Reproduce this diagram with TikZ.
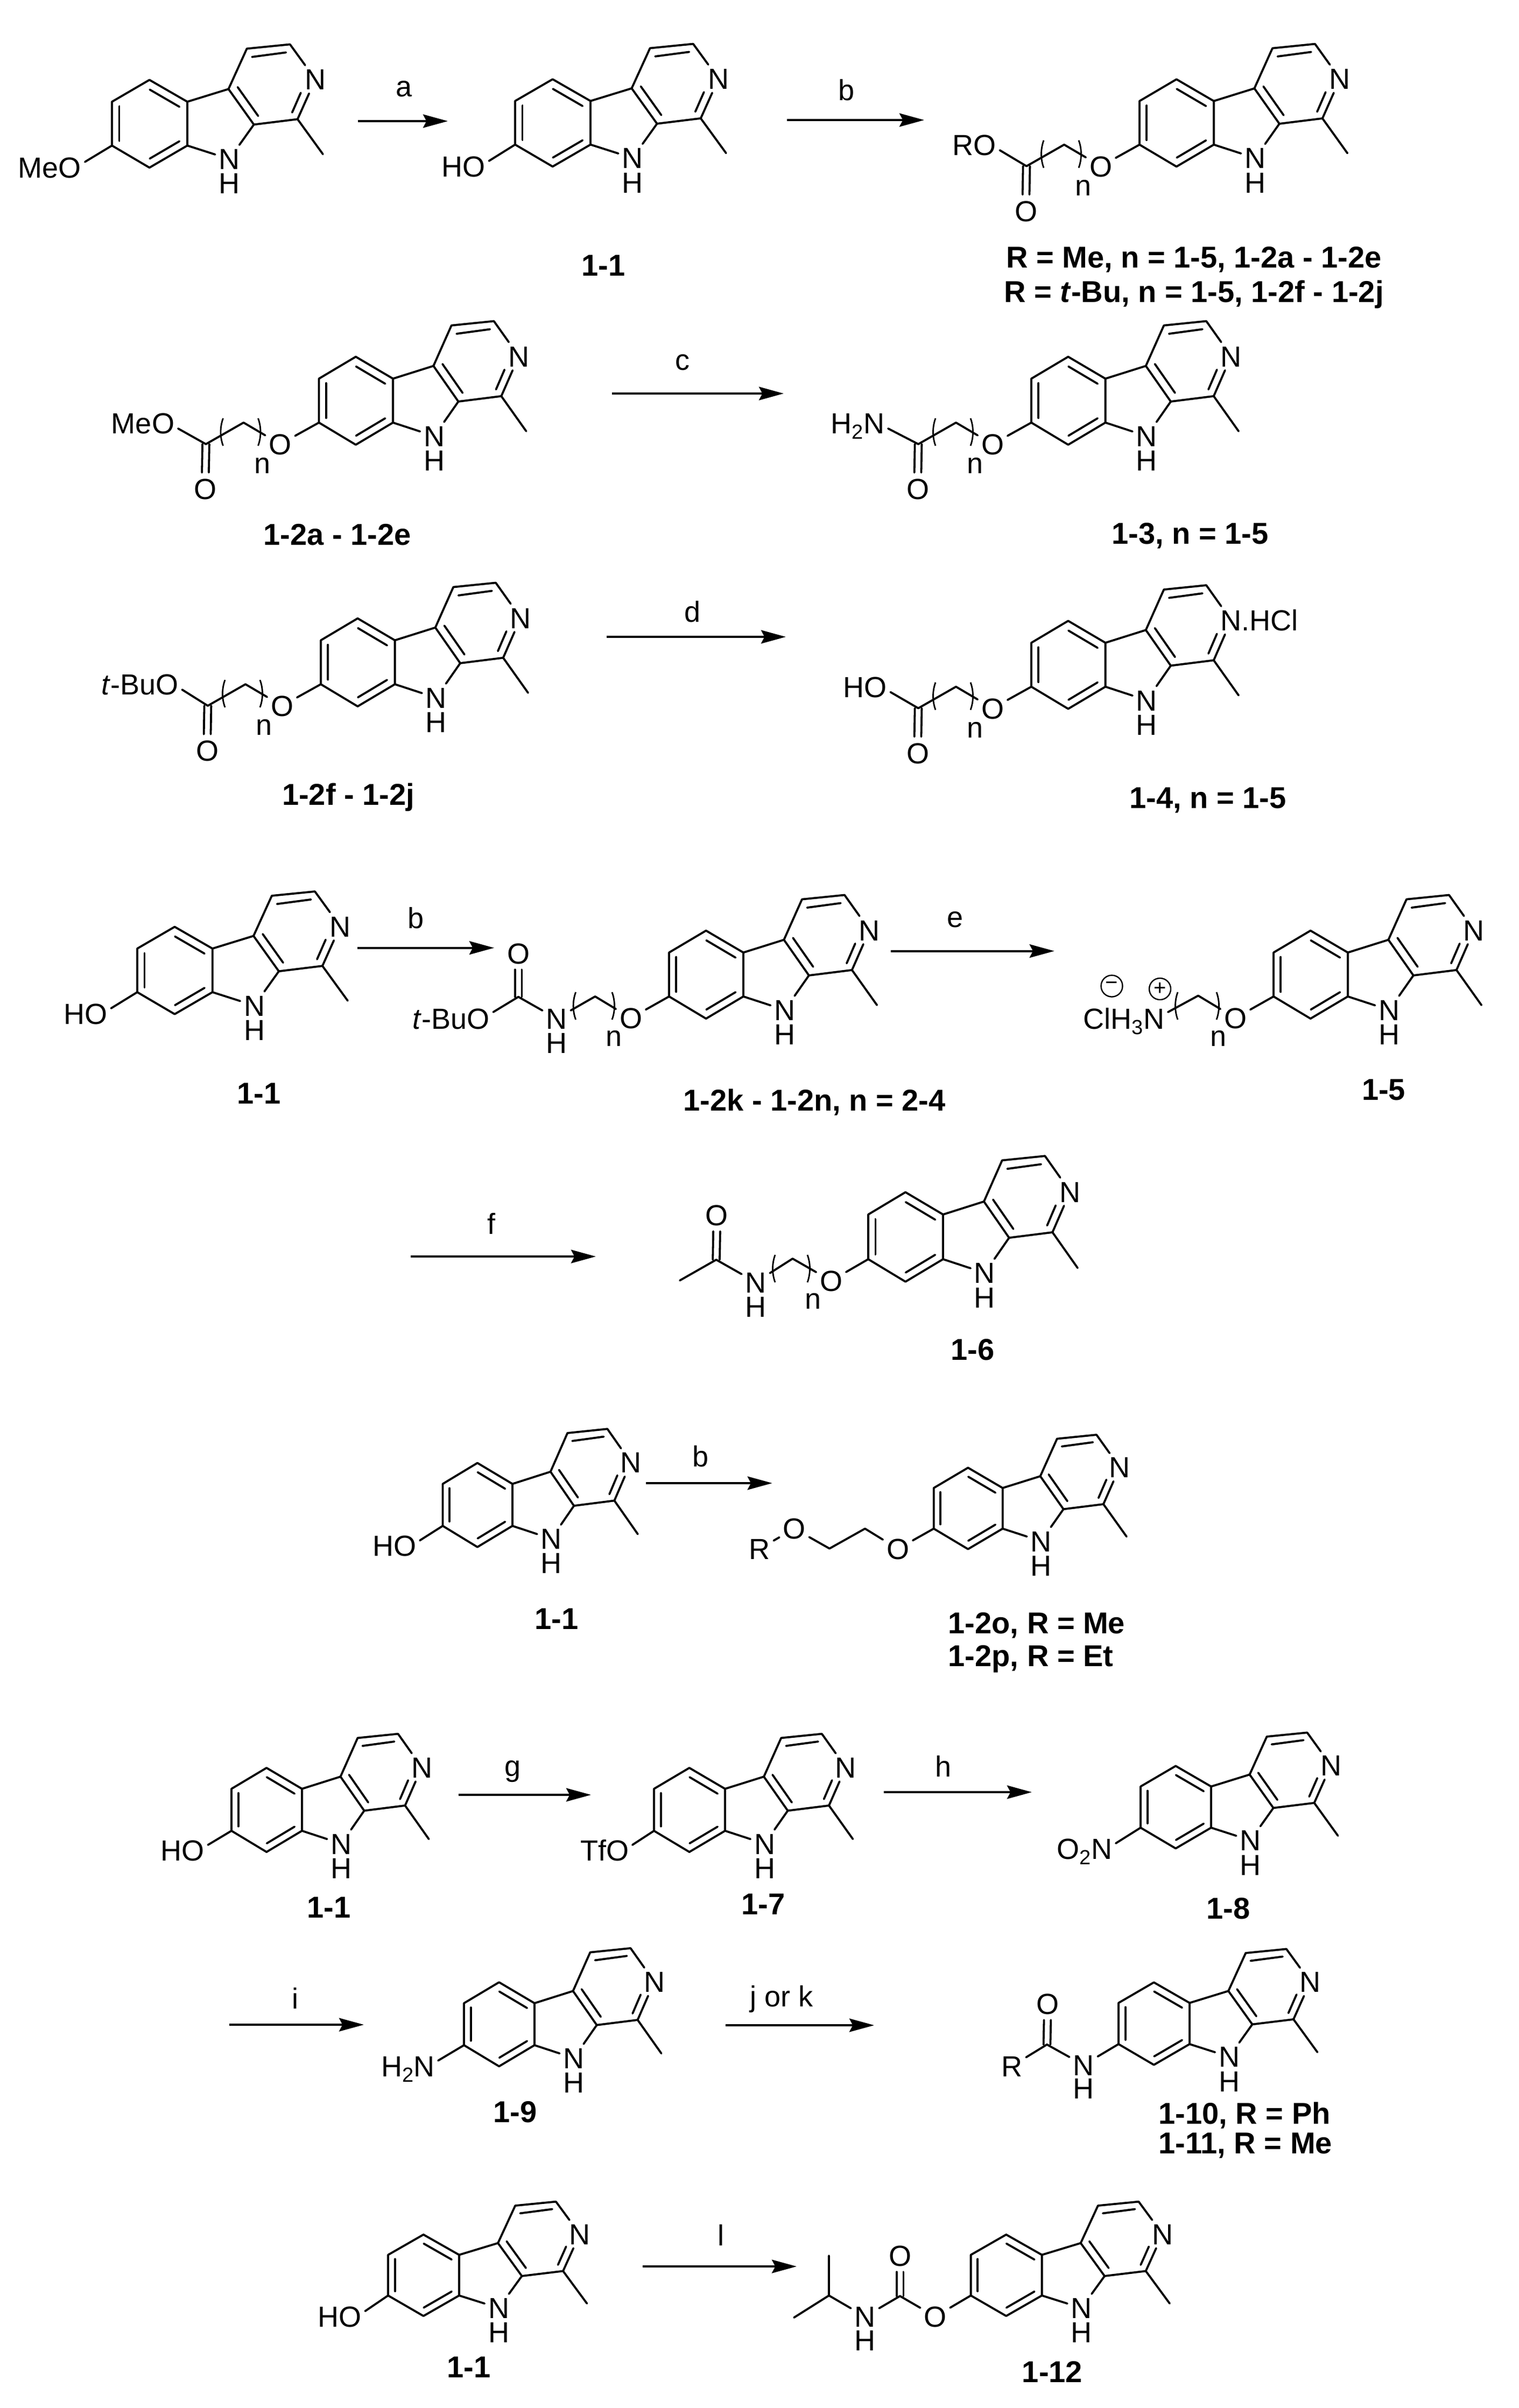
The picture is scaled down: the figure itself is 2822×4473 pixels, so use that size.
\documentclass[tikz,border=0pt]{standalone}
\usepackage{fontspec}
\setmainfont{Liberation Sans}
\usetikzlibrary{arrows.meta}
\tikzset{
  bond/.style={line width=.95pt,line cap=round,line join=round},
  curlyb/.style={line width=.7pt},
  atom/.style={inner sep=1.5pt,font=\fontsize{13.5}{13.5}\selectfont,text height=9.7pt,text depth=0pt},
  lett/.style={inner sep=0pt,font=\fontsize{13.5}{13.5}\selectfont},
  cmpd/.style={inner sep=0pt,font=\fontsize{14}{14}\selectfont\bfseries,text height=10pt,text depth=0pt},
  rxnarrow/.style={line width=1.05pt,-{Stealth[length=11.5pt,width=6.2pt,inset=1.6pt]}},
  charge/.style={draw,circle,line width=.6pt,inner sep=0pt,minimum size=10pt,font=\fontsize{10}{10}\selectfont}
}
\newcommand{\chemsub}[1]{\raisebox{-2.6pt}{\fontsize{9.5}{9.5}\selectfont #1}}
% [N text]{prefix}{ax}{ay}{width}{height}
\newcommand{\harm}[6][N]{%
\begin{scope}[shift={(#3,#4)},xscale=#5/139.7,yscale=#6/81.4]
  \coordinate (#2a) at (0,0);
  \coordinate (#2b) at (0,-81.4);
  \coordinate (#2c) at (69.5,-122);
  \coordinate (#2d) at (139.7,-81.4);
  \coordinate (#2e) at (139.7,0);
  \coordinate (#2f) at (69.5,41);
  \coordinate (#2g) at (216,-105);
  \coordinate (#2h) at (263,-39);
  \coordinate (#2i) at (344,-49);
  \coordinate (#2j) at (330,-188);
  \coordinate (#2k) at (250,-180);
  \coordinate (#2m) at (391,16);
  \node[atom] (#2N) at (377,-123) {#1};
  \node[atom] (#2NH) at (217.5,25) {N};
  \draw[bond] (#2a) -- (#2b) -- (#2c) -- (#2d) -- (#2e) -- (#2f) -- (#2a);
  \draw[bond] (#2d) -- (#2g) -- (#2h) -- (#2i) -- (#2m);
  \draw[bond] (#2g) -- (#2k) -- (#2j);
  \draw[bond] (#2j) -- (#2N) -- (#2i);
  \draw[bond] (#2h) -- (#2NH) -- (#2e);
  \draw[bond] (13.5,-73) -- (13.5,-8.6);
  \draw[bond] (70,-104) -- (125,-72);
  \draw[bond] (125,-8) -- (70,24.3);
  \draw[bond] (233,-108.6) -- (271,-55);
  \draw[bond] (259.6,-164.6) -- (322.7,-173);
  \draw[bond] (334,-61.4) -- (350,-98);
\end{scope}
\node[atom] (#2HH) at ([yshift=-11.3pt]#2NH.center) {H};
}
\newcommand{\parenpair}[4]{%
  \draw[curlyb] ({#1+3},#3) .. controls ({#1-3},{#3+16}) and ({#1-3},{#4-16}) .. ({#1+3},#4);
  \draw[curlyb] ({#2-3},#3) .. controls ({#2+3},{#3+16}) and ({#2+3},{#4-16}) .. ({#2-3},#4);
}
\newcommand{\dblbond}[3]{%
  \draw[bond,shorten >=1pt] ([xshift=1.6pt]#1) -- ([xshift=1.6pt]#2.#3);
  \draw[bond,shorten >=1pt] ([xshift=-1.6pt]#1) -- ([xshift=-1.6pt]#2.#3);
}
% ether-chain ester / amide / acid side chain
\newcommand{\ochain}[1]{%
\begin{scope}[shift={(#1a)}]
  \node[atom] (#1O) at (-72,40) {O};
  \coordinate (#1p) at (-140,0);
  \coordinate (#1C) at (-210,40);
  \node[atom] (#1Oc) at (-211,123) {O};
  \parenpair{-181}{-110}{-8}{43}
  \node[lett] (#1n) at (-105,80) {n};
\end{scope}
\draw[bond] (#1a) -- (#1O) -- (#1p) -- (#1C);
\dblbond{#1C}{#1Oc}{north}
}
% {name}{x1}{x2}{y}{label}{lx}{ly}
\newcommand{\rxn}[7]{%
  \coordinate (#1s) at (#2,#4);
  \coordinate (#1t) at (#3,#4);
  \draw[rxnarrow] (#1s) -- (#1t);
  \node[lett] (#1l) at (#6,#7) {#5};
}
\begin{document}
\begin{tikzpicture}[x=.25pt,y=-.25pt]
\useasboundingbox (0,0) rectangle (2822,4473);

% ---------- row 1
\harm{A}{208}{270.4}{140}{81.4}
\node[atom] (Ag) at (92.5,310.7) {MeO};
\draw[bond] (Aa) -- ([yshift=2.5pt]Ag.east);
\rxn{ra}{664.5}{832}{225}{a}{750.6}{165}
\harm{B}{957}{268.6}{140}{81}
\node[atom] (Bg) at (861,309) {HO};
\draw[bond] (Ba) -- ([yshift=2.5pt]Bg.east);
\node[cmpd] (Bl) at (1121,493) {1-1};
\rxn{rb}{1462}{1717}{223}{b}{1572}{167}
\harm{C}{2117}{268.7}{138}{81}
\ochain{C}
\node[atom] (Cg) at (1810,269) {RO};
\draw[bond] ([yshift=-2.5pt]Cg.east) -- (CC);
\node[cmpd] (Cl1) at (2218,478) {R = Me, n = 1-5, 1-2a - 1-2e};
\node[cmpd] (Cl2) at (2218,541.5) {R = \textit{t}-Bu, n = 1-5, 1-2f - 1-2j};

% ---------- row 2
\harm{D}{592.5}{785}{137.6}{81.6}
\ochain{D}
\node[atom] (Dg) at (265.5,786) {MeO};
\draw[bond] ([yshift=-2.5pt]Dg.east) -- (DC);
\node[cmpd] (Dl) at (626.5,992) {1-2a - 1-2e};
\rxn{rc}{1136.5}{1456}{731}{c}{1267.5}{673}
\harm{E}{1916}{785}{137.6}{81.6}
\ochain{E}
\node[atom] (Eg) at (1593.5,786) {H\chemsub{2}N};
\draw[bond] ([yshift=-2.5pt]Eg.east) -- (EC);
\node[cmpd] (El) at (2211,990) {1-3, n = 1-5};

% ---------- row 3
\harm{F}{596}{1271}{137.6}{81.6}
\ochain{F}
\node[atom] (Fg) at (260,1271) {\textit{t}-BuO};
\draw[bond] ([yshift=-2.5pt]Fg.east) -- (FC);
\node[cmpd] (Fl) at (647,1475) {1-2f - 1-2j};
\rxn{rd}{1126.5}{1460}{1183}{d}{1286}{1136}
\harm[N\rlap{.HCl}]{G}{1916}{1275.6}{137.6}{81.6}
\ochain{G}
\node[atom] (Gg) at (1607,1275.6) {HO};
\draw[bond] ([yshift=-2.5pt]Gg.east) -- (GC);
\node[cmpd] (Gl) at (2244,1481.6) {1-4, n = 1-5};

% ---------- row 4
\harm{H}{255}{1843}{139.7}{81}
\node[atom] (Hg) at (159,1883) {HO};
\draw[bond] (Ha) -- ([yshift=2.5pt]Hg.east);
\node[cmpd] (Hl) at (481,2030) {1-1};
\rxn{rb2}{664}{918}{1760.7}{b}{773}{1705}
\harm{I}{1243}{1851}{138}{81.6}
\begin{scope}[shift={(Ia)}]
  \node[atom] (IO) at (-71,40) {O};
  \coordinate (Ip) at (-137.4,0);
  \node[atom] (IN2) at (-209,41) {N};
  \node[atom] (IH2) at (-209,86) {H};
  \coordinate (IC) at (-280,0.7);
  \node[atom] (IOc) at (-280,-80) {O};
  \parenpair{-176.4}{-103}{-8}{43}
  \node[lett] (In) at (-103,77.6) {n};
\end{scope}
\node[atom] (Ig) at (838,1892) {\textit{t}-BuO};
\draw[bond] (Ia) -- (IO) -- (Ip) -- (IN2) -- (IC);
\draw[bond] ([yshift=3pt]Ig.east) -- (IC);
\dblbond{IC}{IOc}{south}
\node[cmpd] (Il) at (1513,2043) {1-2k - 1-2n, n = 2-4};
\rxn{re}{1654.5}{1958.7}{1766.6}{e}{1774}{1708.5}
\harm{J}{2366}{1851}{138}{81.6}
\begin{scope}[shift={(Ja)}]
  \node[atom] (JO) at (-71,40) {O};
  \coordinate (Jp) at (-140,-1.5);
  \parenpair{-181}{-103}{-8}{43}
  \node[lett] (Jn) at (-103,77.6) {n};
\end{scope}
\node[atom] (Jg) at (2088,1892) {ClH\chemsub{3}N};
\draw[bond] (Ja) -- (JO) -- (Jp) -- ([yshift=3pt]Jg.east);
\node[charge] (Jm) at (2065.5,1831.6) {−};
\node[charge] (Jq) at (2155,1837) {+};
\node[cmpd] (Jl) at (2570.6,2023) {1-5};

% ---------- row 5
\rxn{rf}{763}{1107}{2334}{f}{913}{2273}
\harm{K}{1613}{2339}{139}{83}
\begin{scope}[shift={(Ka)}]
  \node[atom] (KO) at (-69,40) {O};
  \coordinate (Kp) at (-140.5,-1);
  \node[atom] (KN2) at (-209,42.6) {N};
  \node[atom] (KH2) at (-209,88.5) {H};
  \coordinate (KC) at (-282.4,1);
  \node[atom] (KOc) at (-281.4,-82) {O};
  \coordinate (Kme) at (-350,39.5);
  \parenpair{-176}{-110}{-8}{43}
  \node[lett] (Kn) at (-103,78) {n};
\end{scope}
\draw[bond] (Ka) -- (KO) -- (Kp) -- (KN2) -- (KC) -- (Kme);
\dblbond{KC}{KOc}{south}
\node[cmpd] (Kl) at (1807,2506.6) {1-6};

% ---------- row 6
\harm{L}{822.5}{2834.4}{129.5}{78}
\node[atom] (Lg) at (732.7,2871.4) {HO};
\draw[bond] (La) -- ([yshift=2.5pt]Lg.east);
\node[cmpd] (Ll) at (1034,3006.6) {1-1};
\rxn{rb3}{1200}{1434.7}{2755}{b}{1301}{2705.6}
\harm{M}{1734.7}{2839.5}{128}{75.5}
\node[atom] (MO) at (1668,2877) {O};
\coordinate (Mp1) at (1607,2839.5);
\coordinate (Mp2) at (1541,2876.5);
\node[atom] (MO2) at (1475.6,2839.5) {O};
\node[atom] (MR) at (1411,2877) {R};
\draw[bond] (Ma) -- (MO) -- (Mp1) -- (Mp2) -- (MO2) -- (MR);
\node[cmpd,anchor=west] (Ml1) at (1761,3014) {1-2o, R = Me};
\node[cmpd,anchor=west] (Ml2) at (1761,3075.5) {1-2p, R = Et};

% ---------- row 7
\harm{N}{430}{3400.8}{131}{78}
\node[atom] (Ng) at (339,3437) {HO};
\draw[bond] (Na) -- ([yshift=2.5pt]Ng.east);
\node[cmpd] (Nl) at (611,3542) {1-1};
\rxn{rg}{852}{1098}{3334}{g}{953}{3291}
\harm{O}{1215}{3400.8}{132}{78}
\node[atom] (Og) at (1123,3437) {TfO};
\draw[bond] (Oa) -- ([yshift=2.5pt]Og.east);
\node[cmpd] (Ol) at (1418,3536) {1-7};
\rxn{rh}{1641.5}{1917}{3329}{h}{1752}{3281}
\harm{P}{2119}{3395}{131}{76.5}
\node[atom] (Pg) at (2015,3434) {O\chemsub{2}N};
\draw[bond] (Pa) -- ([yshift=2.5pt]Pg.east);
\node[cmpd] (Pl) at (2282,3544.6) {1-8};

% ---------- row 8
\rxn{ri}{425.7}{676}{3761}{i}{548}{3712}
\harm{Q}{862}{3799}{131}{78}
\node[atom] (Qg) at (757.6,3837.6) {H\chemsub{2}N};
\draw[bond] (Qa) -- ([yshift=2.5pt]Qg.east);
\node[cmpd] (Ql) at (957,3922.4) {1-9};
\rxn{rj}{1347.6}{1624}{3762}{j or k}{1452}{3713}
\harm{R}{2078}{3797}{132}{76.5}
\node[atom] (RN2) at (2013,3835.7) {N};
\node[atom] (RH2) at (2013,3879.5) {H};
\coordinate (RC) at (1945,3797.8);
\node[atom] (ROc) at (1946,3722) {O};
\node[atom] (Rg) at (1880,3837.6) {R};
\draw[bond] (Ra) -- (RN2) -- (RC) -- (Rg);
\dblbond{RC}{ROc}{south}
\node[cmpd,anchor=west] (Rl1) at (2152,3925) {1-10, R = Ph};
\node[cmpd,anchor=west] (Rl2) at (2152,3980.8) {1-11, R = Me};

% ---------- row 9
\harm{S}{721}{4264}{132}{75.5}
\node[atom] (Sg) at (631,4303) {HO};
\draw[bond] (Sa) -- ([yshift=2.5pt]Sg.east);
\node[cmpd] (Sl) at (871,4396.7) {1-1};
\rxn{rl}{1194}{1480}{4210}{l}{1339}{4151.7}
\harm{T}{1803.6}{4264}{132}{75.5}
\node[atom] (TO) at (1737.4,4303) {O};
\coordinate (TC) at (1672,4265);
\node[atom] (TOc) at (1672,4190) {O};
\node[atom] (TN2) at (1607,4303) {N};
\node[atom] (TH2) at (1607,4346.7) {H};
\coordinate (TCH) at (1540,4264);
\coordinate (Tm1) at (1540,4190);
\coordinate (Tm2) at (1475,4305);
\draw[bond] (Ta) -- (TO) -- (TC) -- (TN2) -- (TCH) -- (Tm1);
\draw[bond] (TCH) -- (Tm2);
\dblbond{TC}{TOc}{south}
\node[cmpd] (Tl) at (1955,4405) {1-12};
\end{tikzpicture}
\end{document}
